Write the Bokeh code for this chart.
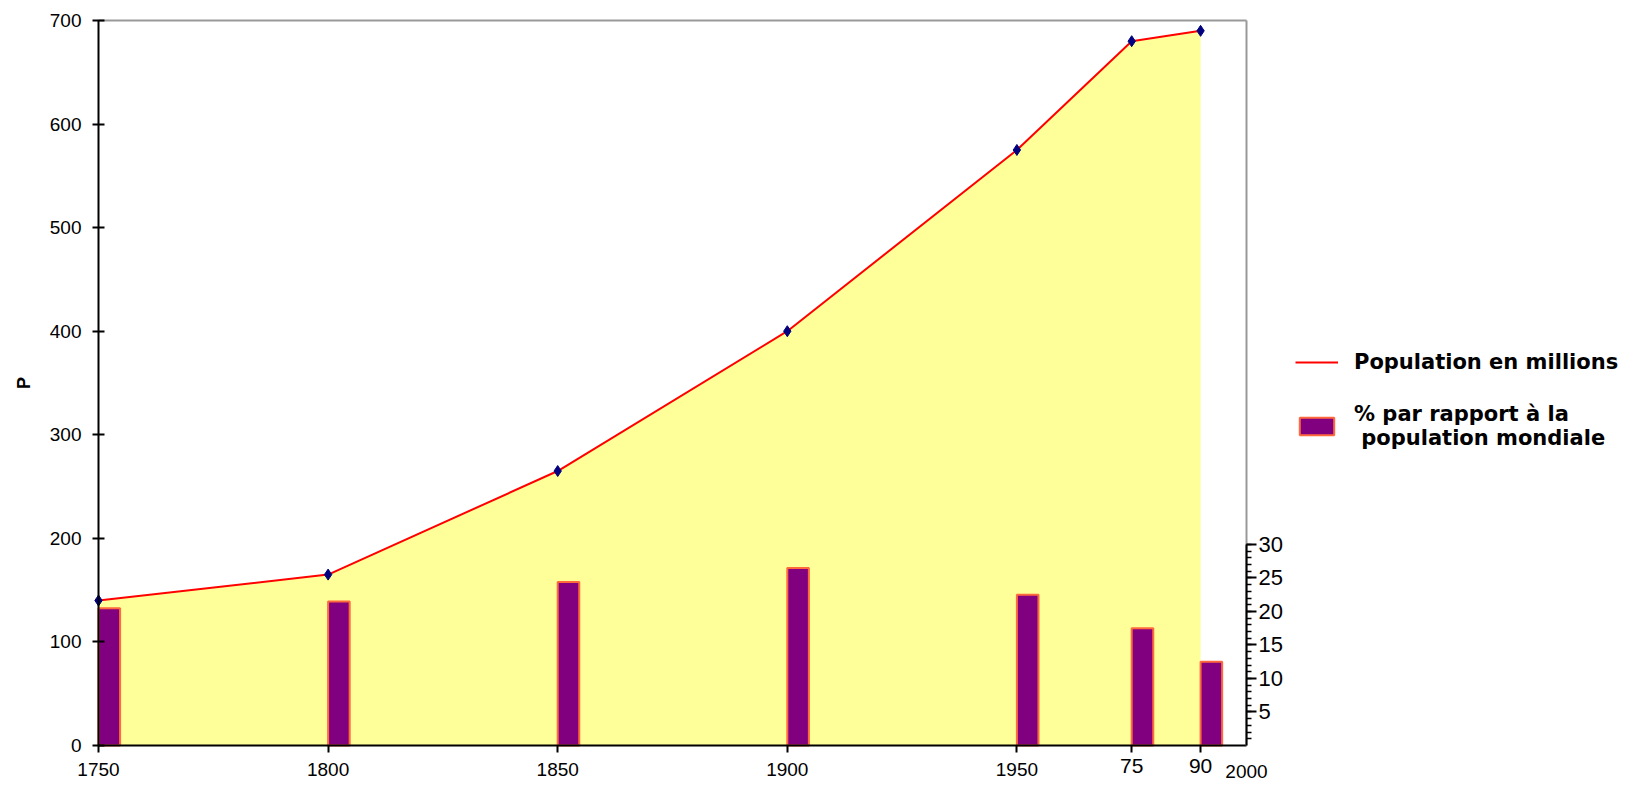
import math
from bokeh.plotting import figure
from bokeh.models import (Range1d, LinearAxis, FixedTicker, Legend,
                          LegendItem, ColumnDataSource, Label)
from bokeh.embed import file_html
from bokeh.resources import INLINE

# ---- data -------------------------------------------------------------
years = [1750, 1800, 1850, 1900, 1950, 1975, 1990]
population = [140, 165, 265, 400, 575, 680, 690]          # millions
pct_world = [20.5, 21.5, 24.4, 26.5, 22.5, 17.5, 12.5]    # % of world pop.
y_ticks = [0, 100, 200, 300, 400, 500, 600, 700]
pct_ticks = [5, 10, 15, 20, 25, 30]
pct_minor = list(range(1, 31))
long_year_ticks = [1750, 1800, 1850, 1900, 1950]
short_year_ticks = [1975, 1990]
short_year_labels = {1975: "75", 1990: "90"}
end_tick = [2000]
y_title = "P"
legend_line_label = "Population en millions"
legend_bar_label = "% par rapport à la\n population mondiale"

X0, X1 = 1750, 2000   # plotted period
Y0, Y1 = 0, 700       # population axis
P0, P1 = 0, 108.2     # percentage scale over the same height
BAR_W = 4.7           # years

# ---- layout (pixels) --------------------------------------------------
W, H = 1630, 786
LEFT, TOP = 98, 20                # position of the (X0, Y1) corner
PLOT_W, PLOT_H = 1148, 725        # pixels for X0..X1 and Y0..Y1
BELOW = H - TOP - PLOT_H
sx = (X1 - X0) / PLOT_W
sy = (Y1 - Y0) / PLOT_H
sp = (P1 - P0) / PLOT_H

# the frame covers the whole canvas; axes are pinned at data positions
p = figure(width=W, height=H,
           x_range=Range1d(X0 - LEFT * sx, X0 + (W - LEFT) * sx),
           y_range=Range1d(Y0 - BELOW * sy, Y1 + TOP * sy),
           output_backend="svg", toolbar_location=None,
           min_border_left=0, min_border_right=0,
           min_border_top=0, min_border_bottom=0,
           background_fill_color="white", border_fill_color="white")
p.extra_y_ranges = {"pct": Range1d(P0 - BELOW * sp, P1 + TOP * sp)}
p.xgrid.visible = False
p.ygrid.visible = False
p.outline_line_color = None

FONT = "Liberation Sans"

# ---- default axes: bottom (on the zero line) and left -----------------
xa = p.below[0]
xa.fixed_location = Y0
xa.bounds = (X0, X1)
xa.ticker = FixedTicker(ticks=long_year_ticks, minor_ticks=[])
xa.major_tick_in = 0
xa.major_tick_out = 7
xa.major_label_standoff = 10
xa.major_label_text_font = FONT
xa.major_label_text_font_size = "19px"
xa.major_label_text_color = "black"
xa.axis_line_width = 2
xa.axis_line_color = "black"
xa.major_tick_line_width = 2
xa.minor_tick_line_color = None

ya = p.left[0]
ya.fixed_location = X0
ya.bounds = (Y0, Y1)
ya.ticker = FixedTicker(ticks=y_ticks, minor_ticks=[])
ya.major_tick_in = 6
ya.major_tick_out = 6
ya.major_label_standoff = 11
ya.major_label_text_font = FONT
ya.major_label_text_font_size = "19px"
ya.major_label_text_color = "black"
ya.axis_line_width = 2
ya.axis_line_color = "black"
ya.major_tick_line_width = 2
ya.minor_tick_line_color = None

# ---- marks ------------------------------------------------------------
src = ColumnDataSource(dict(year=years, pop=population, pct=pct_world,
                            right=[y + BAR_W for y in years],
                            zero=[0] * len(years)))

p.varea(x="year", y1="zero", y2="pop", source=src, fill_color="#FFFF99")
bar_r = p.quad(left="year", right="right", bottom="zero", top="pct",
               source=src, y_range_name="pct", fill_color="#800080",
               line_color="#FF6A3D", line_width=2)
line_r = p.line(x="year", y="pop", source=src, line_color="#FF0000",
                line_width=2)
p.scatter(x="year", y="pop", source=src, marker="diamond", size=11,
          fill_color="#000080", line_color="#000080")

# ---- frame edges (top and right, grey) --------------------------------
top_edge = LinearAxis(fixed_location=Y1, bounds=(X0, X1),
                      ticker=FixedTicker(ticks=[], minor_ticks=[]),
                      axis_line_color="#999999", axis_line_width=2,
                      major_tick_line_color=None, minor_tick_line_color=None)
p.add_layout(top_edge, "above")
right_edge = LinearAxis(fixed_location=X1, bounds=(Y0, Y1),
                        ticker=FixedTicker(ticks=[], minor_ticks=[]),
                        axis_line_color="#999999", axis_line_width=2,
                        major_tick_line_color=None, minor_tick_line_color=None)
p.add_layout(right_edge, "right")

# ---- extra bottom labels ----------------------------------------------
xs = LinearAxis(fixed_location=Y0,
                ticker=FixedTicker(ticks=short_year_ticks, minor_ticks=[]),
                major_label_overrides=short_year_labels,
                axis_line_color=None, major_tick_in=0, major_tick_out=7,
                major_tick_line_width=2, minor_tick_line_color=None,
                major_label_standoff=6, major_label_text_font=FONT,
                major_label_text_font_size="21px",
                major_label_text_color="black")
p.add_layout(xs, "below")

xe = LinearAxis(fixed_location=Y0,
                ticker=FixedTicker(ticks=end_tick, minor_ticks=[]),
                axis_line_color=None, major_tick_line_color=None,
                major_tick_in=0, major_tick_out=0, minor_tick_line_color=None,
                major_label_standoff=19, major_label_text_font=FONT,
                major_label_text_font_size="19px",
                major_label_text_color="black")
p.add_layout(xe, "below")

# axis title "P", rotated, centred on the 0..700 span
p.add_layout(Label(x=23, x_units="screen",
                   y=BELOW + PLOT_H / 2, y_units="screen",
                   text=y_title, angle=math.pi / 2, text_align="center",
                   text_baseline="middle", text_font=FONT,
                   text_font_style="bold", text_font_size="18px",
                   text_color="black"))

# ---- right (percentage) axis ------------------------------------------
ra = LinearAxis(y_range_name="pct", fixed_location=X1,
                ticker=FixedTicker(ticks=pct_ticks, minor_ticks=pct_minor),
                bounds=(0, 30), major_tick_in=0, major_tick_out=10,
                minor_tick_in=0, minor_tick_out=5, major_label_standoff=2,
                major_label_text_font=FONT,
                major_label_text_font_size="22px",
                major_label_text_color="black",
                axis_line_width=2, axis_line_color="black",
                major_tick_line_width=2, minor_tick_line_width=1.5)
p.add_layout(ra, "right")

# ---- legend -----------------------------------------------------------
legend = Legend(items=[LegendItem(label=legend_line_label, renderers=[line_r]),
                       LegendItem(label=legend_bar_label, renderers=[bar_r])],
                location=(1295, 336), glyph_width=43,
                glyph_height=22, label_standoff=16, spacing=28, padding=0,
                margin=0, border_line_alpha=0, background_fill_alpha=0,
                label_text_font="DejaVu Sans", label_text_font_style="bold",
                label_text_font_size="21px", label_text_color="black",
                label_height=22)
p.add_layout(legend)

open("out.html", "w").write(file_html(p, INLINE))
